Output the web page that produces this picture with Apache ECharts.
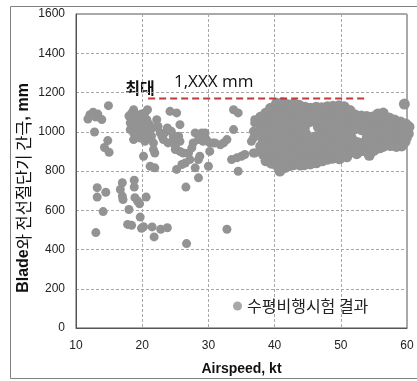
<!DOCTYPE html>
<html><head><meta charset="utf-8">
<script src="https://cdn.jsdelivr.net/npm/echarts@6/dist/echarts.min.js"></script>
<style>html,body{margin:0;padding:0;background:#fff}#c{width:417px;height:381px}</style>
</head><body><div id="c"></div>
<script>
// axis ranges / ticks
const xTicks = [10, 20, 30, 40, 50, 60];
const yTicks = [0, 200, 400, 600, 800, 1000, 1200, 1400, 1600];
const seriesName = '수평비행시험 결과';
const maxLabel = '1,XXX mm';
const maxWord = '최대';
// red dashed max line: [x, y]
const maxLine = [[20.9, 1170], [54.1, 1170]];

// sparse points, low speed (kt, mm)
const leftGroup = [[12.1,1087],[11.8,1065],[13.3,1090],[13.9,1062],[14.9,1133],[12.8,999],[14.8,955],[14.3,920],[15.0,895],[12.6,1100],[13.0,1075]];
const lowGroup = [[13.2,715],[13.2,667],[14.5,692],[14.1,593],[13.0,486],[17.0,740],[16.7,706],[17.0,672],[17.1,655],[18.8,753],[18.8,718],[18.9,664],[19.3,647],[19.6,633],[20.6,667],[18.0,604],[19.7,565],[17.8,528],[18.4,523],[19.9,508],[20.2,516],[21.5,515],[22.8,503],[23.8,511],[21.8,464],[26.7,430],[32.8,503],[26.6,718],[28.5,765]];
const midBand = [[18.7,1112],[19.2,1087],[18.9,1061],[18.2,1045],[18.2,1011],[18.7,994],[18.7,960],[19.7,1036],[19.7,1002],[19.7,968],[20.4,1096],[20.7,1061],[20.4,1027],[20.7,994],[20.4,951],[21.2,1011],[21.4,977],[21.7,943],[22.2,1061],[22.4,1027],[22.7,994],[23.4,994],[23.2,960],[24.2,1104],[25.2,1096],[25.7,1036],[24.4,1002],[24.7,977],[25.5,977],[25.7,951],[21.7,909],[21.9,892],[20.2,875],[21.2,824],[21.9,816],[25.0,909],[25.7,900],[26.2,892],[26.0,833],[25.2,808],[27.0,892],[27.5,918],[27.7,943],[27.2,858],[28.5,858],[28.7,875],[26.5,841],[28.0,816],[30.0,824],[28.0,994],[28.5,960],[29.2,951],[29.5,994],[30.2,943],[30.2,900],[31.0,943],[31.8,934],[32.8,960],[33.8,1011],[33.8,1112],[34.5,1096],[33.5,858],[34.3,867],[35.0,875],[35.5,884],[34.5,799],[36.8,892],[37.0,1045],[37.3,1053],[36.8,968],[37.0,1061],[18.0,1080],[19.0,1030],[19.4,1070],[20.0,1050],[21.0,1040],[21.6,1020],[19.2,985],[20.9,965],[23.8,1019],[24.7,960],[23.9,943],[25.0,926],[23.0,975],[18.4,1095],[19.9,1090],[20.8,1112],[29.7,960],[30.7,943],[32.3,943],[29.0,994],[36.8,1002],[36.5,951],[37.0,892],[37.5,1045],[37.8,1027]];
// dense cluster, 38-60 kt
const clusterA = [[37.9,1075],[38.1,1040],[37.8,1000],[38.2,965],[37.9,925],[38.3,885],[38.7,1095],[38.5,1060],[38.9,1025],[38.6,990],[38.8,950],[38.5,915],[38.9,880],[38.7,852],[39.4,1120],[39.6,1085],[39.3,1050],[39.6,1015],[39.4,980],[39.7,945],[39.3,910],[39.6,875],[39.5,840],[40.3,1145],[40.1,1110],[40.4,1075],[40.2,1040],[40.5,1005],[40.2,970],[40.4,935],[40.1,900],[40.4,865],[40.3,830],[40.8,800],[41.2,1148],[41.0,1112],[41.3,1078],[41.1,1042],[41.4,1008],[41.1,972],[41.3,938],[41.0,902],[41.4,868],[41.2,835],[41.6,818]];
const clusterB = [[42.0,1138],[42.2,1105],[41.9,1070],[42.1,1035],[42.0,1000],[42.3,965],[41.9,930],[42.2,895],[42.0,860],[42.3,828],[42.9,1142],[42.7,1108],[43.0,1072],[42.8,1038],[43.1,1002],[42.8,968],[43.0,932],[42.7,898],[43.1,862],[42.9,832],[43.7,1135],[43.9,1100],[43.6,1065],[43.8,1030],[43.6,995],[43.9,960],[43.7,925],[43.8,890],[43.6,855],[43.9,830],[44.6,1125],[44.4,1092],[44.7,1058],[44.5,1022],[44.7,988],[44.4,952],[44.6,918],[44.5,882],[44.7,848],[44.5,832],[45.4,1120],[45.6,1085],[45.3,1052],[45.2,962],[45.5,925],[45.3,890],[45.6,855],[45.4,836]];
const clusterC = [[46.3,1125],[46.1,1090],[46.4,1060],[46.6,1025],[46.2,975],[46.5,940],[46.2,905],[46.4,870],[46.3,842],[47.1,1122],[47.3,1088],[47.0,1052],[47.2,1015],[47.4,980],[47.1,945],[47.3,910],[47.0,875],[47.2,852],[48.0,1128],[47.8,1092],[48.1,1058],[47.9,1022],[48.2,988],[47.9,952],[48.1,918],[47.8,882],[48.0,860],[48.8,1130],[49.0,1095],[48.7,1060],[48.9,1025],[48.7,990],[49.0,955],[48.8,920],[48.9,885],[48.7,865],[49.7,1132],[49.5,1098],[49.8,1062],[49.6,1028],[49.9,992],[49.5,958],[49.7,922],[49.6,888],[49.8,862],[50.5,1128],[50.7,1092],[50.4,1058],[50.6,1022],[50.4,988],[50.7,952],[50.5,918],[50.6,882],[50.9,872]];
const clusterD = [[51.4,1108],[51.2,1072],[51.5,1038],[51.3,1002],[51.6,968],[51.2,932],[51.4,898],[52.2,1085],[52.4,1050],[52.1,1015],[52.5,945],[52.2,910],[52.4,888],[53.1,1080],[52.9,1045],[53.2,1010],[53.0,940],[53.2,905],[53.9,1078],[54.1,1040],[53.8,1005],[54.0,972],[54.2,935],[53.9,900],[54.3,880],[54.8,1075],[55.0,1040],[54.7,1005],[54.9,970],[54.7,935],[55.0,905],[55.6,1090],[55.8,1055],[55.5,1020],[55.7,985],[55.6,950],[55.9,918],[56.4,1095],[56.2,1060],[56.5,1025],[56.3,990],[56.6,955],[56.4,925],[57.3,1070],[57.1,1035],[57.4,1000],[57.2,965],[57.5,930],[58.1,1060],[58.3,1025],[58.0,990],[58.2,955],[58.4,925],[59.0,1050],[58.8,1015],[59.1,980],[58.9,945],[59.2,928],[59.8,1040],[59.6,1005],[59.9,970],[59.7,950],[59.6,1141],[60.3,1025],[60.2,990]];

const sparsePoints = [].concat(leftGroup, lowGroup, midBand);
const clusterPoints = [].concat(clusterA, clusterB, clusterC, clusterD);

const FONT = '"Liberation Sans", Arial, "Noto Sans CJK KR", sans-serif';
const KFONT = '"Noto Sans CJK KR", "Liberation Sans", sans-serif';
const DOT = '#939393';

const chart = echarts.init(document.getElementById('c'), null, {renderer: 'canvas'});
chart.setOption({
  animation: false,
  backgroundColor: '#fff',
  grid: {left: 76, right: 10, top: 14, bottom: 52, show: true, borderColor: '#555', borderWidth: 1, containLabel: false},
  xAxis: {
    type: 'value', min: xTicks[0], max: xTicks[xTicks.length - 1], interval: xTicks[1] - xTicks[0],
    name: 'Airspeed, kt', nameLocation: 'middle', nameGap: 34,
    nameTextStyle: {fontFamily: FONT, fontWeight: 'bold', fontSize: 14, color: '#111'},
    axisLine: {lineStyle: {color: '#555'}}, axisTick: {show: false},
    axisLabel: {fontFamily: FONT, fontSize: 12, color: '#222', margin: 12, formatter: v => String(v)},
    splitLine: {show: true, lineStyle: {color: '#a8a8a8', type: [3, 2], width: 1}}
  },
  yAxis: {
    type: 'value', min: yTicks[0], max: yTicks[yTicks.length - 1], interval: yTicks[1] - yTicks[0],
    axisLine: {show: true, lineStyle: {color: '#555'}}, axisTick: {show: false},
    axisLabel: {fontFamily: FONT, fontSize: 12, color: '#222', margin: 11, formatter: v => String(v)},
    splitLine: {show: true, lineStyle: {color: '#a8a8a8', type: [3, 2], width: 1}}
  },
  legend: {
    data: [{name: seriesName, icon: 'circle', itemStyle: {color: '#a8a8a8', borderWidth: 0}}],
    left: 228, top: 293, itemWidth: 9, itemHeight: 9, itemGap: 5,
    textStyle: {fontFamily: KFONT, fontSize: 16, color: '#222'}
  },
  graphic: [
    {type: 'polyline', silent: true, z: -10, shape: {points: [[417, 6.5], [10.5, 6.5], [10.5, 378.5], [417, 378.5]]}, style: {stroke: '#808080', lineWidth: 1, fill: null}},
    {type: 'text', x: 24, y: 188, rotation: Math.PI / 2, style: {
      text: '{b|Blade}{k|와 전선절단기 간극}{b|, mm}', align: 'center', verticalAlign: 'middle',
      rich: {b: {fontFamily: FONT, fontWeight: 'bold', fontSize: 16, fill: '#111'}, k: {fontFamily: KFONT, fontSize: 16.5, fill: '#111'}}
    }},
    {type: 'text', x: 140, y: 88, style: {text: maxWord, fontFamily: KFONT, fontWeight: 'bold', fontSize: 16, fill: '#111', align: 'center', verticalAlign: 'middle'}},
    {type: 'text', x: 174, y: 82, style: {text: maxLabel, fontFamily: '"Open Sans", "Liberation Sans", sans-serif', fontSize: 17, fill: '#111', align: 'left', verticalAlign: 'middle'}}
  ],
  series: [
    {name: seriesName, type: 'scatter', data: sparsePoints, symbolSize: 9, clip: false,
     itemStyle: {color: DOT, opacity: 1, borderWidth: 0}},
    {name: seriesName, type: 'scatter', data: clusterPoints, symbolSize: 11, clip: false,
     itemStyle: {color: DOT, opacity: 1, borderWidth: 0}},
    {name: 'max', type: 'line', data: maxLine, symbol: 'none', silent: true,
     lineStyle: {color: '#c0393b', width: 2, type: [7, 4]}}
  ]
});
</script></body></html>
